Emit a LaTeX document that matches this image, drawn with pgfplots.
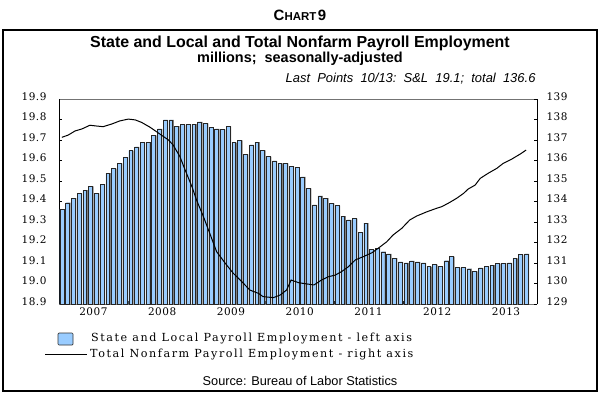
\documentclass[border=0pt]{standalone}
\usepackage{fontspec}
\usepackage{pgfplots}
\pgfplotsset{compat=1.18}
\usepackage{pgfplotstable}
\setmainfont{Liberation Sans}
\newfontfamily\tickfont[LetterSpace=5]{DejaVu Serif}
\newfontfamily\legfont[LetterSpace=14]{DejaVu Serif}
\definecolor{barblue}{RGB}{153,204,255}

\pgfplotstableread{
x y
0 19.363
1 19.394
2 19.416
3 19.438
4 19.456
5 19.474
6 19.440
7 19.485
8 19.539
9 19.560
10 19.586
11 19.616
12 19.648
13 19.666
14 19.687
15 19.690
16 19.722
17 19.754
18 19.798
19 19.798
20 19.768
21 19.775
22 19.778
23 19.778
24 19.789
25 19.781
26 19.762
27 19.754
28 19.752
29 19.767
30 19.687
31 19.698
32 19.630
33 19.676
34 19.690
35 19.650
36 19.619
37 19.598
38 19.586
39 19.586
40 19.573
41 19.568
42 19.520
43 19.464
44 19.384
45 19.428
46 19.417
47 19.391
48 19.380
49 19.329
50 19.310
51 19.316
52 19.250
53 19.294
54 19.165
55 19.172
56 19.155
57 19.144
58 19.124
59 19.106
60 19.101
61 19.110
62 19.106
63 19.101
64 19.082
65 19.092
66 19.082
67 19.111
68 19.131
69 19.077
70 19.077
71 19.072
72 19.059
73 19.076
74 19.082
75 19.090
76 19.097
77 19.100
78 19.101
79 19.123
80 19.141
81 19.145
}\barsdata

\pgfplotstableread{
x y
0.0 137.13
1.1 137.24
2.3 137.44
3.5 137.54
4.9 137.72
6.1 137.68
7.2 137.65
8.7 137.78
10.1 137.93
11.6 138.02
12.8 137.98
13.9 137.86
15.4 137.62
17.1 137.29
18.6 137.00
19.4 136.76
20.6 136.19
21.5 135.54
22.7 134.72
23.5 134.07
24.7 133.26
25.8 132.45
27.0 131.55
28.5 130.99
29.9 130.50
31.4 130.09
32.8 129.68
34.3 129.52
35.1 129.36
36.9 129.31
38.1 129.44
39.2 129.68
40.0 130.17
41.3 130.04
42.7 129.98
44.0 129.93
45.3 130.17
46.5 130.33
47.7 130.41
48.8 130.58
50.0 130.82
51.2 131.15
52.6 131.31
54.1 131.50
55.2 131.72
56.7 132.04
57.8 132.37
59.3 132.69
60.7 133.10
61.9 133.29
63.7 133.50
65.4 133.67
66.3 133.75
67.7 133.96
68.9 134.16
70.1 134.40
70.9 134.61
72.1 134.80
73.0 135.13
74.4 135.38
75.9 135.62
77.0 135.86
78.5 136.07
80.0 136.32
81.0 136.51
}\linedata

\pgfplotsset{
  common/.style={
    scale only axis, width=478bp, height=205bp,
    at={(59bp,92bp)}, anchor=south west,
    xmin=-0.5, xmax=82.9,
    tick align=inside, major tick length=3bp,
    tick style={black, line width=0.5bp},
    tick label style={font=\tickfont\fontsize{10.5}{11}\selectfont},
    /pgf/number format/assume math mode=true,
  }
}

\begin{document}
\begin{tikzpicture}[x=1bp,y=1bp]
\path[use as bounding box] (0,0) rectangle (600,396);
\draw[line width=1.5bp] (3,5) rectangle (597,366);

\node[font=\bfseries] at (300,381) {{\fontsize{15}{16}\selectfont C}{\fontsize{11.5}{12}\selectfont HART}\,{\fontsize{15}{16}\selectfont 9}};
\node[font=\bfseries\fontsize{16}{17}\selectfont] at (300,353) {State and Local and Total Nonfarm Payroll Employment};
\node[font=\bfseries\fontsize{14.5}{15}\selectfont] at (300,337) {millions;\ \ seasonally-adjusted};
\node[anchor=east, font=\itshape\fontsize{13}{14}\selectfont] at (539,317) {Last\ \ Points\ \ 10/13:\ \ S\&L\ \ 19.1;\ \ total\ \ 136.6};

\begin{axis}[common,
  ymin=18.9, ymax=19.9,
  separate axis lines,
  every outer x axis line/.append style={black!55, line width=0.8bp},
  every outer y axis line/.append style={black, line width=0.8bp},
  xtick pos=bottom, ytick pos=left,
  xtick={11.5,23.5,35.5,47.5,59.5,71.5}, xticklabels={},
  extra x ticks={5.5,17.5,29.5,41.5,53.5,65.5,77.5},
  extra x tick labels={2007,2008,2009,2010,2011,2012,2013},
  extra x tick style={major tick length=0pt},
  ytick={18.9,19.0,19.1,19.2,19.3,19.4,19.5,19.6,19.7,19.8,19.9},
  yticklabel style={/pgf/number format/fixed, /pgf/number format/fixed zerofill, /pgf/number format/precision=1, xshift=-9bp, yshift=2.5bp},
]
\addplot[ybar, bar width=4.2bp, bar shift=1.0bp, fill=black!50, draw=none] table[x=x,y=y]{\barsdata};
\addplot[ybar, bar width=3.8bp, bar shift=0bp, fill=barblue, draw=black!85, line width=0.45bp] table[x=x,y=y]{\barsdata};
\end{axis}

\begin{axis}[common,
  ymin=129, ymax=139,
  axis x line=none, axis y line*=right,
  y axis line style={black, line width=0.8bp},
  ytick={129,130,131,132,133,134,135,136,137,138,139},
  yticklabel style={xshift=6bp, yshift=2.5bp},
]
\addplot[black, line width=1bp] table[x=x,y=y]{\linedata};
\end{axis}

\draw[fill=barblue, draw=black!80, rounded corners=1bp, line width=0.7bp] (58,51) rectangle (73,63);
\node[anchor=base west, inner sep=0, font=\legfont\fontsize{11.2}{12}\selectfont] at (91,55) {State and Local Payroll Employment - left axis};
\draw[line width=0.8bp] (45,41.7) -- (87,41.7);
\node[anchor=base west, inner sep=0, font=\legfont\fontsize{11.2}{12}\selectfont] at (90,39) {Total Nonfarm Payroll Employment - right axis};
\node[anchor=base, font=\fontsize{12.8}{13}\selectfont] at (300,11) {Source: Bureau of Labor Statistics};
\end{tikzpicture}
\end{document}
